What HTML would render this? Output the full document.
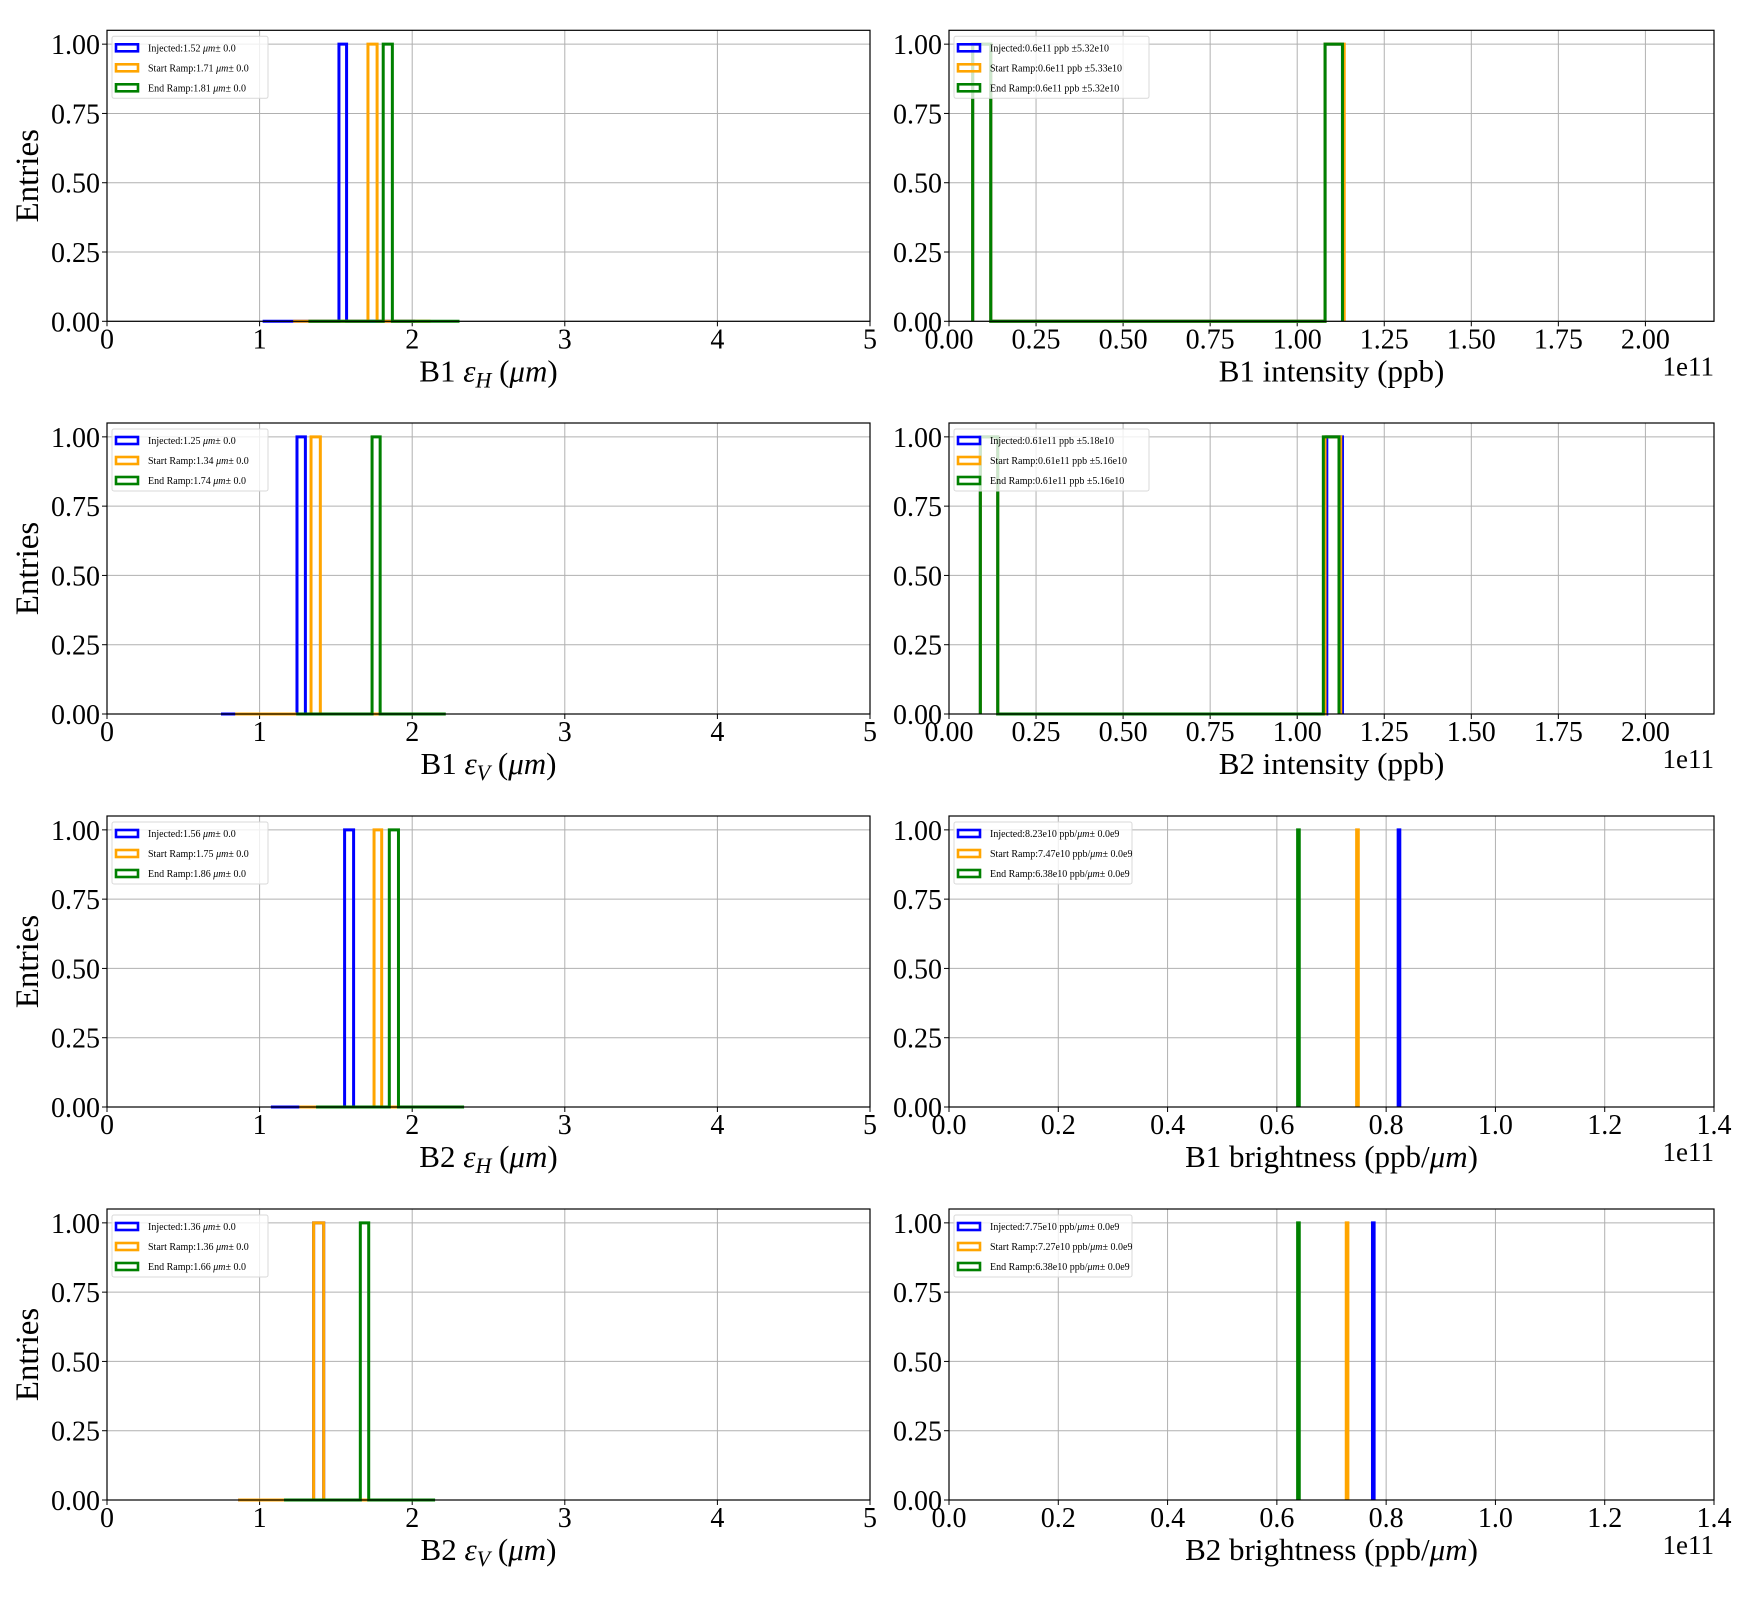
<!DOCTYPE html>
<html><head><meta charset="utf-8"><style>
html,body{margin:0;padding:0;background:#fff}
svg{display:block;font-family:"Liberation Serif","DejaVu Serif",serif}
</style></head><body>
<svg id="fig" width="1760" height="1600" viewBox="0 0 1760 1600" xmlns="http://www.w3.org/2000/svg"></svg>
<script>
// ---- data ----
const seriesNames = ["Injected","Start Ramp","End Ramp"];
const seriesColors = ["#0000ff","#ffa500","#008000"];
const yTicks = [0,0.25,0.5,0.75,1.0];
const yTickLabels = ["0.00","0.25","0.50","0.75","1.00"];

const emitTitles = [["B1","H"],["B1","V"],["B2","H"],["B2","V"]];
const emitXTicks = [0,1,2,3,4,5];
const emitBarLo = [[1.52,1.71,1.81],[1.245,1.337,1.737],[1.557,1.75,1.85],[1.354,1.354,1.66]];
const emitBarHi = [[1.57,1.77,1.87],[1.30,1.398,1.79],[1.616,1.80,1.91],[1.42,1.42,1.715]];
const emitRangeLo = [[1.02,1.22,1.32],[0.747,0.84,1.24],[1.074,1.26,1.37],[0.86,0.86,1.16]];
const emitRangeHi = [[2.02,2.12,2.31],[1.95,2.05,2.22],[2.05,2.15,2.34],[1.86,1.86,2.15]];
const emitLegendValues = [["1.52","1.71","1.81"],["1.25","1.34","1.74"],["1.56","1.75","1.86"],["1.36","1.36","1.66"]];

const intTitles = ["B1 intensity (ppb)","B2 intensity (ppb)"];
const intXTicks = [0,0.25,0.5,0.75,1.0,1.25,1.5,1.75,2.0];
const intXTickLabels = ["0.00","0.25","0.50","0.75","1.00","1.25","1.50","1.75","2.00"];
const intBar1Lo = [[0.068,0.068,0.068],[0.09,0.09,0.09]];
const intBar1Hi = [[0.12,0.12,0.12],[0.14,0.14,0.14]];
const intBar2Lo = [[1.08,1.08,1.08],[1.085,1.08,1.075]];
const intBar2Hi = [[1.13,1.135,1.13],[1.13,1.125,1.12]];
const intLegend = [["0.6e11 ppb ±5.32e10","0.6e11 ppb ±5.33e10","0.6e11 ppb ±5.32e10"],
                   ["0.61e11 ppb ±5.18e10","0.61e11 ppb ±5.16e10","0.61e11 ppb ±5.16e10"]];

const brTitles = ["B1","B2"];
const brXTicks = [0,0.2,0.4,0.6,0.8,1.0,1.2,1.4];
const brXTickLabels = ["0.0","0.2","0.4","0.6","0.8","1.0","1.2","1.4"];
const brValues = [[0.822,0.746,0.638],[0.775,0.727,0.638]];
const brLegend = [["8.23e10","7.47e10","6.38e10"],["7.75e10","7.27e10","6.38e10"]];

// ---- layout ----
const NS="http://www.w3.org/2000/svg";
const svg=document.getElementById('fig');
const rowTops=[30.3,423,816,1209], axH=291;
const colL=[107,949], colR=[870,1714];
function el(tag,attrs,parent){const e=document.createElementNS(NS,tag);for(const k in attrs)e.setAttribute(k,attrs[k]);(parent||svg).appendChild(e);return e;}

function makeAxes(col,row,xmax,xt,xtl,name){
  const g=el('g',{});
  
  
  const x0=colL[col],x1=colR[col],y0=rowTops[row],y1=y0+axH;
  const sx=v=>x0+(x1-x0)*v/xmax, sy=v=>y1-axH*v/1.05;
  xt.forEach((v,i)=>{
    const gl=el('line',{x1:sx(v),x2:sx(v),y1:y0,y2:y1,stroke:'#b0b0b0','stroke-width':1},g);
    
    el('line',{x1:sx(v),x2:sx(v),y1:y1,y2:y1+5,stroke:'#000','stroke-width':1},g);
    const t=el('text',{x:sx(v),y:y1+27,'text-anchor':'middle','font-size':28},g);
    t.textContent=xtl[i];
    
  });
  yTicks.forEach((v,i)=>{
    const gl=el('line',{x1:x0,x2:x1,y1:sy(v),y2:sy(v),stroke:'#b0b0b0','stroke-width':1},g);
    
    el('line',{x1:x0-5,x2:x0,y1:sy(v),y2:sy(v),stroke:'#000','stroke-width':1},g);
    const t=el('text',{x:x0-7,y:sy(v)+10,'text-anchor':'end','font-size':28},g);
    t.textContent=yTickLabels[i];
    
  });
  if(col===0){
    const yl=el('text',{x:0,y:0,'font-size':33,'text-anchor':'middle',transform:`translate(38,${y0+axH/2}) rotate(-90)`},g);
    yl.textContent='Entries';
    
  }
  return {g,x0,x1,y0,y1,sx,sy};
}
function frame(ax){
  const r=el('rect',{x:ax.x0,y:ax.y0,width:ax.x1-ax.x0,height:axH,fill:'none',stroke:'#000','stroke-width':1.2},ax.g);
  
}
function stepPath(ax,pts,color,g){
  const d=pts.map((p,i)=>(i?'L':'M')+ax.sx(p[0]).toFixed(2)+' '+ax.sy(p[1]).toFixed(2)).join(' ');
  return el('path',{d:d,fill:'none',stroke:color,'stroke-width':3,'stroke-linejoin':'miter'},g);
}
function legend(ax,width,labels){
  const lg=el('g',{},ax.g);
  
  const lx=ax.x0+5, ly=ax.y0+6;
  el('rect',{x:lx,y:ly,width:width,height:62,rx:2,fill:'#fff','fill-opacity':0.8,stroke:'#d9d9d9','stroke-width':1},lg);
  labels.forEach((lab,i)=>{
    const e=el('g',{},lg);
    
    el('rect',{x:lx+4,y:ly+8+i*20,width:22,height:7,fill:'none',stroke:seriesColors[i],'stroke-width':2.6},e);
    const t=el('text',{x:lx+36,y:ly+15+i*20,'font-size':10},e);
    t.innerHTML=lab;
  });
}

emitTitles.forEach((tt,r)=>{
  const ax=makeAxes(0,r,5,emitXTicks,emitXTicks.map(String),'emittance-panel-'+tt[0].toLowerCase()+'-'+tt[1].toLowerCase());
  for(let s=0;s<3;s++){
    const pts=[[emitRangeLo[r][s],0],[emitBarLo[r][s],0],[emitBarLo[r][s],1],[emitBarHi[r][s],1],[emitBarHi[r][s],0],[emitRangeHi[r][s],0]];
    const p=stepPath(ax,pts,seriesColors[s],ax.g);
    
    
  }
  frame(ax);
  legend(ax,156,seriesNames.map((n,s)=>`${n}:${emitLegendValues[r][s]} <tspan font-style="italic">μm</tspan>± 0.0`));
  const xl=el('text',{x:(ax.x0+ax.x1)/2,y:ax.y1+60,'text-anchor':'middle','font-size':31},ax.g);
  xl.innerHTML=`${tt[0]} <tspan font-style="italic">ε</tspan><tspan font-style="italic" font-size="22" dy="6">${tt[1]}</tspan><tspan dy="-6"> (</tspan><tspan font-style="italic">μm</tspan>)`;
  
});

function offsetLabel(ax){
  const t=el('text',{x:ax.x1,y:ax.y1+54,'text-anchor':'end','font-size':27},ax.g);
  t.textContent='1e11';
  
}
intTitles.forEach((tt,r)=>{
  const ax=makeAxes(1,r,2.197,intXTicks,intXTickLabels,'intensity-panel-b'+(r+1));
  for(let s=0;s<3;s++){
    const pts=[[intBar1Lo[r][s],0],[intBar1Lo[r][s],1],[intBar1Hi[r][s],1],[intBar1Hi[r][s],0],[intBar2Lo[r][s],0],[intBar2Lo[r][s],1],[intBar2Hi[r][s],1],[intBar2Hi[r][s],0]];
    const p=stepPath(ax,pts,seriesColors[s],ax.g);
    
    
  }
  frame(ax);
  legend(ax,195,seriesNames.map((n,s)=>`${n}:${intLegend[r][s]}`));
  const xl=el('text',{x:(ax.x0+ax.x1)/2,y:ax.y1+60,'text-anchor':'middle','font-size':31},ax.g);
  xl.textContent=tt;
  
  offsetLabel(ax);
});
brTitles.forEach((tt,r)=>{
  const ax=makeAxes(1,r+2,1.4,brXTicks,brXTickLabels,'brightness-panel-'+tt.toLowerCase());
  for(let s=0;s<3;s++){
    const v=brValues[r][s];
    const pts=[[v,0],[v,1],[v+0.003,1],[v+0.003,0]];
    const p=stepPath(ax,pts,seriesColors[s],ax.g);
    
    
  }
  frame(ax);
  legend(ax,178,seriesNames.map((n,s)=>`${n}:${brLegend[r][s]} ppb/<tspan font-style="italic">μm</tspan>± 0.0e9`));
  const xl=el('text',{x:(ax.x0+ax.x1)/2,y:ax.y1+60,'text-anchor':'middle','font-size':31},ax.g);
  xl.innerHTML=`${tt} brightness (ppb/<tspan font-style="italic">μm</tspan>)`;
  
  offsetLabel(ax);
});
</script>
</body></html>
